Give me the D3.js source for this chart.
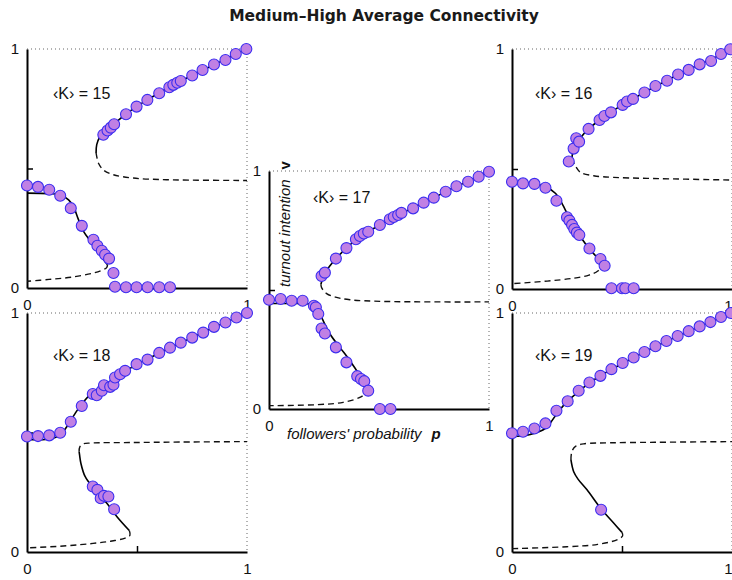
<!DOCTYPE html>
<html>
<head>
<meta charset="utf-8">
<script src="https://cdn.jsdelivr.net/npm/d3@7"></script>
<style>
  html, body { margin: 0; padding: 0; background: #fff; }
  svg { display: block; }
</style>
</head>
<body>
<svg id="chart" width="732" height="580"></svg>
<script>
// ---------------- DATA ----------------
const chartTitle = "Medium–High Average Connectivity";
const panelK = [15, 16, 17, 18, 19];
const xTickLabels = ["0", "1"];
const yTickLabels = ["0", "1"];
const xAxisTitle = "followers' probability";
const xAxisSymbol = "p";
const yAxisTitle = "turnout intention";
const yAxisSymbol = "v";

// simulation points [p, v]
const dotsK15 = [
  [0.347,0.641],[0.366,0.659],[0.381,0.671],[0.396,0.685],[0.450,0.727],[0.498,0.759],
  [0.547,0.787],[0.601,0.815],[0.647,0.840],[0.665,0.850],[0.683,0.859],[0.699,0.866],
  [0.751,0.889],[0.798,0.912],[0.850,0.935],[0.902,0.954],[0.949,0.979],[0.997,1.0],
  [0,0.429],[0.050,0.423],[0.101,0.411],[0.151,0.386],[0.199,0.334],[0.249,0.260],
  [0.302,0.202],[0.320,0.177],[0.340,0.156],[0.355,0.139],[0.373,0.123],[0.393,0.063],
  [0.400,0.005],[0.450,0.003],[0.498,0.003],[0.548,0.003],[0.601,0.003],[0.650,0.003]
];
const dotsK16 = [
  [0.258,0.531],[0.280,0.585],[0.292,0.628],[0.305,0.614],[0.348,0.667],[0.398,0.704],
  [0.420,0.721],[0.450,0.736],[0.503,0.767],[0.523,0.781],[0.550,0.792],[0.602,0.819],
  [0.652,0.846],[0.705,0.868],[0.755,0.894],[0.803,0.913],[0.853,0.936],[0.905,0.950],
  [0.950,0.979],[0.992,0.999],
  [0,0.447],[0.050,0.440],[0.102,0.438],[0.152,0.422],[0.202,0.368],[0.250,0.299],
  [0.261,0.285],[0.273,0.267],[0.283,0.250],[0.295,0.235],[0.306,0.225],[0.352,0.169],
  [0.402,0.125],[0.421,0.097],[0.452,0.003],[0.500,0.003],[0.515,0.003],[0.553,0.003]
];
const dotsK17 = [
  [0.239,0.559],[0.254,0.573],[0.304,0.632],[0.352,0.676],[0.395,0.713],[0.413,0.727],
  [0.431,0.737],[0.451,0.745],[0.504,0.773],[0.549,0.797],[0.567,0.807],[0.587,0.815],
  [0.602,0.824],[0.655,0.843],[0.703,0.867],[0.749,0.888],[0.803,0.913],[0.852,0.936],
  [0.905,0.955],[0.953,0.976],[1.0,0.997],
  [0,0.459],[0.053,0.462],[0.103,0.455],[0.153,0.455],[0.204,0.434],[0.213,0.427],
  [0.224,0.399],[0.239,0.338],[0.254,0.317],[0.304,0.259],[0.352,0.196],[0.401,0.138],
  [0.418,0.126],[0.433,0.117],[0.451,0.077],[0.504,0.0],[0.552,0.0]
];
const dotsK18 = [
  [0,0.483],[0.050,0.485],[0.101,0.488],[0.151,0.499],[0.199,0.545],[0.249,0.611],
  [0.299,0.661],[0.317,0.656],[0.340,0.675],[0.350,0.698],[0.378,0.691],[0.393,0.700],
  [0.400,0.730],[0.423,0.744],[0.446,0.758],[0.498,0.786],[0.548,0.805],[0.601,0.833],
  [0.650,0.855],[0.699,0.876],[0.751,0.897],[0.801,0.918],[0.850,0.942],[0.902,0.960],
  [0.952,0.981],[1.0,1.0],
  [0.299,0.274],[0.320,0.260],[0.335,0.225],[0.350,0.235],[0.370,0.232],[0.396,0.179]
];
const dotsK19 = [
  [0,0.497],[0.050,0.503],[0.102,0.517],[0.152,0.538],[0.202,0.591],[0.253,0.631],
  [0.303,0.675],[0.352,0.709],[0.402,0.737],[0.452,0.765],[0.503,0.791],[0.553,0.814],
  [0.602,0.837],[0.652,0.861],[0.702,0.883],[0.753,0.904],[0.803,0.924],[0.853,0.944],
  [0.902,0.962],[0.950,0.983],[0.995,1.0],
  [0.405,0.177]
];

// mean-field curves: stable (solid) and unstable (dashed) branches
const solidK15 = [
  [[0.314,0.565],[0.317,0.60],[0.333,0.635],[0.36,0.662],[0.40,0.69],[0.45,0.728],[0.50,0.76],
   [0.55,0.789],[0.60,0.816],[0.65,0.842],[0.70,0.866],[0.75,0.889],[0.80,0.912],[0.85,0.934],
   [0.90,0.956],[0.95,0.978],[1.0,1.0]],
  [[0,0.397],[0.10,0.395],[0.15,0.39],[0.189,0.369],[0.211,0.341],[0.234,0.286],[0.257,0.237],
   [0.295,0.188],[0.332,0.139],[0.366,0.097]]
];
const dashedK15 = [
  [[0.314,0.565],[0.317,0.55],[0.325,0.522],[0.347,0.494],[0.393,0.474],[0.483,0.46],[0.634,0.453],[1.0,0.45]],
  [[0.366,0.097],[0.362,0.085],[0.345,0.076],[0.30,0.062],[0.2,0.045],[0.1,0.036],[0,0.028]]
];
const solidK16 = [
  [[0.272,0.545],[0.278,0.575],[0.29,0.60],[0.31,0.628],[0.348,0.667],[0.40,0.705],[0.45,0.737],
   [0.50,0.766],[0.55,0.792],[0.60,0.818],[0.65,0.844],[0.70,0.867],[0.75,0.891],[0.80,0.913],
   [0.85,0.935],[0.90,0.955],[0.95,0.977],[1.0,1.0]],
  [[0,0.443],[0.083,0.44],[0.152,0.426],[0.197,0.399],[0.227,0.357],[0.265,0.288],[0.311,0.218],
   [0.356,0.163],[0.402,0.117]]
];
const dashedK16 = [
  [[0.272,0.545],[0.288,0.513],[0.311,0.486],[0.371,0.472],[0.462,0.465],[0.614,0.461],[1.0,0.454]],
  [[0.402,0.117],[0.405,0.095],[0.39,0.075],[0.35,0.058],[0.28,0.045],[0.16,0.033],[0,0.022]]
];
const solidK17 = [
  [[0.236,0.524],[0.243,0.545],[0.254,0.573],[0.28,0.605],[0.304,0.632],[0.352,0.676],[0.40,0.715],
   [0.45,0.745],[0.504,0.773],[0.55,0.797],[0.60,0.822],[0.65,0.843],[0.70,0.867],[0.75,0.888],
   [0.80,0.912],[0.85,0.935],[0.90,0.955],[0.95,0.976],[1.0,1.0]],
  [[0,0.443],[0.095,0.443],[0.186,0.441],[0.216,0.427],[0.239,0.385],[0.277,0.315],[0.322,0.259],
   [0.368,0.203],[0.413,0.14],[0.443,0.091]]
];
const dashedK17 = [
  [[0.236,0.524],[0.239,0.51],[0.262,0.485],[0.307,0.469],[0.368,0.459],[0.519,0.452],[1.0,0.45]],
  [[0.443,0.091],[0.44,0.068],[0.413,0.049],[0.337,0.028],[0.216,0.018],[0,0.014]]
];
const solidK18 = [
  [[0,0.471],[0.106,0.473],[0.151,0.49],[0.181,0.524],[0.219,0.58],[0.257,0.629],[0.302,0.670],
   [0.378,0.712],[0.446,0.754],[0.498,0.786],[0.55,0.808],[0.60,0.832],[0.65,0.855],[0.70,0.876],
   [0.75,0.897],[0.80,0.918],[0.85,0.94],[0.90,0.96],[0.95,0.98],[1.0,1.0]],
  [[0.237,0.42],[0.239,0.406],[0.245,0.371],[0.264,0.316],[0.302,0.267],[0.363,0.204],[0.408,0.149],
   [0.465,0.09]]
];
const dashedK18 = [
  [[0.237,0.42],[0.24,0.44],[0.255,0.452],[0.29,0.456],[0.48,0.458],[0.7,0.46],[1.0,0.462]],
  [[0.465,0.09],[0.468,0.07],[0.446,0.058],[0.38,0.045],[0.30,0.036],[0.18,0.026],[0,0.017]]
];
const solidK19 = [
  [[0,0.483],[0.083,0.492],[0.152,0.517],[0.205,0.58],[0.25,0.629],[0.311,0.677],[0.352,0.708],
   [0.402,0.737],[0.452,0.764],[0.503,0.79],[0.553,0.813],[0.602,0.837],[0.652,0.86],[0.702,0.882],
   [0.753,0.903],[0.803,0.923],[0.853,0.943],[0.902,0.962],[0.95,0.982],[1.0,1.0]],
  [[0.268,0.385],[0.28,0.337],[0.30,0.305],[0.341,0.26],[0.402,0.184],[0.462,0.121],[0.5,0.082]]
];
const dashedK19 = [
  [[0.268,0.385],[0.272,0.42],[0.29,0.443],[0.33,0.453],[0.45,0.457],[0.65,0.459],[1.0,0.462]],
  [[0.5,0.082],[0.503,0.068],[0.48,0.052],[0.39,0.032],[0.25,0.022],[0,0.014]]
];

// ---------------- LAYOUT ----------------
const panels = [
  {k: panelK[0], dots: dotsK15, solid: solidK15, dashed: dashedK15, x0: 27,  x1: 247, y0: 49,  y1: 288, lx: 53,  ly: 99},
  {k: panelK[1], dots: dotsK16, solid: solidK16, dashed: dashedK16, x0: 512, x1: 732, y0: 49,  y1: 289, lx: 535, ly: 99, edge: true},
  {k: panelK[3], dots: dotsK18, solid: solidK18, dashed: dashedK18, x0: 27,  x1: 247, y0: 313, y1: 552, lx: 53,  ly: 361},
  {k: panelK[4], dots: dotsK19, solid: solidK19, dashed: dashedK19, x0: 512, x1: 732, y0: 313, y1: 552, lx: 535, ly: 361, edge: true},
  {k: panelK[2], dots: dotsK17, solid: solidK17, dashed: dashedK17, x0: 269, x1: 489, y0: 171, y1: 409, lx: 313, ly: 203, axisTitles: true}
];

const svg = d3.select("#chart");
const labelFont = "'Liberation Sans', Arial, Helvetica, sans-serif";

svg.append("text")
  .attr("x", 384).attr("y", 21)
  .attr("text-anchor", "middle")
  .attr("font-family", "'DejaVu Sans', sans-serif")
  .attr("font-weight", "bold")
  .attr("font-size", 15.5)
  .attr("fill", "#1a1a1a")
  .text(chartTitle);

const curve = d3.curveCatmullRom.alpha(0.5);

panels.forEach(pn => {
  const x = d3.scaleLinear().domain([0, 1]).range([pn.x0, pn.x1]);
  const y = d3.scaleLinear().domain([0, 1]).range([pn.y1, pn.y0]);
  const g = svg.append("g");

  // dotted frame (top and right)
  g.append("line").attr("x1", x(0)).attr("x2", x(1)).attr("y1", y(1)).attr("y2", y(1))
    .attr("stroke", "#666").attr("stroke-width", 1).attr("stroke-dasharray", "1,3");
  g.append("line").attr("x1", x(1)).attr("x2", x(1)).attr("y1", y(1)).attr("y2", y(0))
    .attr("stroke", "#666").attr("stroke-width", 1).attr("stroke-dasharray", "1,3");

  // axes with labels
  const yAx = g.append("g").attr("transform", `translate(${pn.x0},0)`)
    .call(d3.axisLeft(y).tickValues([0, 1]).tickSize(0).tickPadding(8)
      .tickFormat((d, i) => yTickLabels[i]));
  const xAx = g.append("g").attr("transform", `translate(0,${pn.y1})`)
    .call(d3.axisBottom(x).tickValues([0, 1]).tickSize(0).tickPadding(11)
      .tickFormat((d, i) => xTickLabels[i]));
  [yAx, xAx].forEach(a => {
    a.select(".domain").attr("stroke", "#000").attr("stroke-width", 2);
    a.selectAll("text").attr("font-family", labelFont).attr("font-size", 15).attr("fill", "#111");
  });
  if (pn.edge) {
    // keep the "1" at the window edge inside the picture
    xAx.selectAll(".tick").filter(d => d === 1).select("text").attr("text-anchor", "end").attr("dx", 0);
  }
  // inner half-way ticks
  g.append("g").attr("transform", `translate(${pn.x0},0)`)
    .call(d3.axisLeft(y).tickValues([0.5]).tickSize(-6).tickFormat(""))
    .call(a => a.select(".domain").remove())
    .selectAll("line").attr("stroke", "#000").attr("stroke-width", 1.5);
  g.append("g").attr("transform", `translate(0,${pn.y1})`)
    .call(d3.axisBottom(x).tickValues([0.5]).tickSize(-6).tickFormat(""))
    .call(a => a.select(".domain").remove())
    .selectAll("line").attr("stroke", "#000").attr("stroke-width", 1.5);

  const line = d3.line().x(d => x(d[0])).y(d => y(d[1])).curve(curve);

  g.selectAll("path.dashed").data(pn.dashed).join("path")
    .attr("class", "dashed").attr("d", line)
    .attr("fill", "none").attr("stroke", "#111").attr("stroke-width", 1.4)
    .attr("stroke-dasharray", "6,4");
  g.selectAll("path.solid").data(pn.solid).join("path")
    .attr("class", "solid").attr("d", line)
    .attr("fill", "none").attr("stroke", "#000").attr("stroke-width", 1.6);

  g.selectAll("circle").data(pn.dots).join("circle")
    .attr("cx", d => x(d[0])).attr("cy", d => y(d[1])).attr("r", 5.5)
    .attr("fill", "#c080e4").attr("stroke", "#3b2df0").attr("stroke-width", 1.1);

  g.append("text").attr("x", pn.lx).attr("y", pn.ly)
    .attr("font-family", labelFont).attr("font-size", 16).attr("fill", "#111")
    .text(`‹K› = ${pn.k}`);

  if (pn.axisTitles) {
    const xt = g.append("text").attr("x", x(0) + 18).attr("y", pn.y1 + 30)
      .attr("font-family", labelFont).attr("font-size", 15).attr("fill", "#111")
      .attr("font-style", "italic");
    xt.append("tspan").text(xAxisTitle);
    xt.append("tspan").attr("dx", 10).attr("font-weight", "bold").text(xAxisSymbol);

    const yt = g.append("text")
      .attr("transform", `translate(${x(0) + 21},${y(0.5) - 3}) rotate(-90)`)
      .attr("font-family", labelFont).attr("font-size", 15).attr("fill", "#111")
      .attr("font-style", "italic");
    yt.append("tspan").text(yAxisTitle);
    yt.append("tspan").attr("dx", 10).attr("font-weight", "bold").attr("font-style", "normal").text(yAxisSymbol);
  }
});
</script>
</body>
</html>
